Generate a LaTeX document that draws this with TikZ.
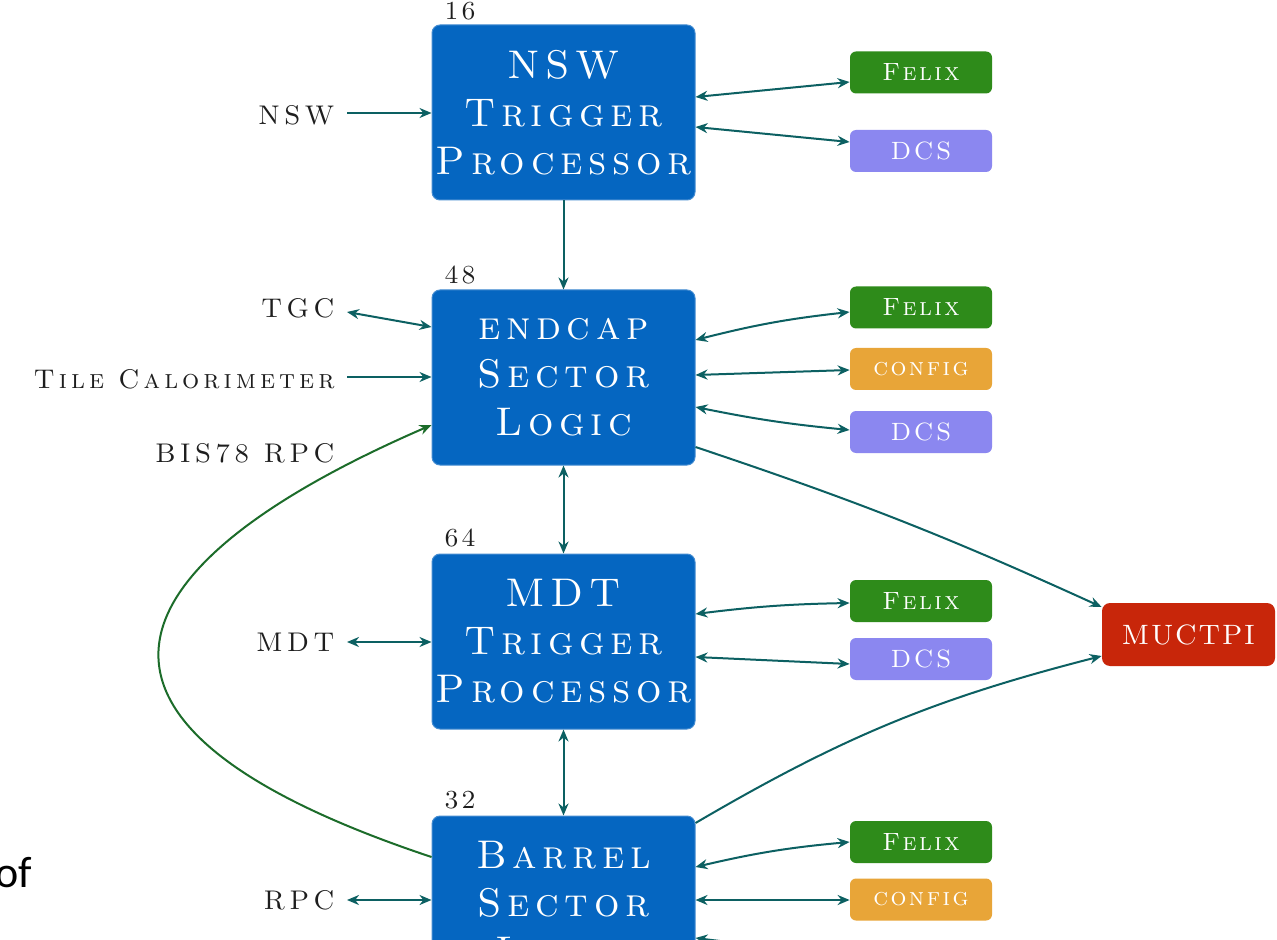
\documentclass[tikz,border=0pt]{standalone}
\usepackage{fontspec}
\usetikzlibrary{arrows.meta,calc}
\newfontfamily\cop{lmromancaps10-regular.otf}[LetterSpace=14]
\newfontfamily\copl{lmromancaps10-regular.otf}[LetterSpace=15]
\newfontfamily\cops{lmromancaps10-regular.otf}[LetterSpace=10]
\newfontfamily\copm{lmromancaps10-regular.otf}[LetterSpace=5]
\newfontfamily\calib{Carlito}
\definecolor{boxblue}{RGB}{5,102,193}
\definecolor{felixc}{RGB}{46,139,26}
\definecolor{dcsc}{RGB}{139,135,240}
\definecolor{cfgc}{RGB}{232,165,56}
\definecolor{mucc}{RGB}{200,38,10}
\definecolor{arrc}{RGB}{12,96,98}
\definecolor{grnc}{RGB}{28,108,42}
\definecolor{txtc}{RGB}{30,30,30}
\begin{document}
\begin{tikzpicture}[x=0.5pt,y=-0.5pt,
  bigbox/.style={rectangle, rounded corners=4pt, fill=boxblue, draw=boxblue!75!white, line width=0.5pt,
    minimum width=131.5pt, minimum height=87.5pt, text=white, align=center, inner sep=0pt,
    font=\cop\fontsize{20}{24}\selectfont},
  smallbox/.style={rectangle, rounded corners=3pt, minimum width=71pt, minimum height=21pt,
    text=white, inner sep=0pt, font=\cops\fontsize{12.5}{14}\selectfont},
  lab/.style={anchor=east, inner xsep=6pt, inner ysep=0pt, text=txtc, font=\copl\fontsize{13.5}{15}\selectfont},
  num/.style={anchor=west, inner sep=0pt, text=txtc, font=\cops\fontsize{13}{14}\selectfont},
  conn/.style={draw=arrc, line width=1pt, -{Stealth[length=6pt,width=5pt]}},
  bconn/.style={draw=arrc, line width=1pt, {Stealth[length=6pt,width=5pt]}-{Stealth[length=6pt,width=5pt]}},
  gconn/.style={draw=grnc, line width=1pt, -{Stealth[length=6pt,width=5pt]}}
]
\useasboundingbox (0,0) rectangle (1277,940);
\fill[white] (0,0) rectangle (1277,940);

% main boxes
\node[bigbox] (nsw) at (563.5,112.5) {NSW\\Trigger\\Processor};
\node[bigbox] (ecs) at (563.5,377.5) {endcap\\Sector\\Logic};
\node[bigbox] (mdt) at (563.5,641.5) {MDT\\Trigger\\Processor};
\node[bigbox] (bsl) at (563.5,903.5) {Barrel\\Sector\\Logic};

% multiplicities
\node[num] (n16) at (444,11) {16};
\node[num] (n48) at (444,275) {48};
\node[num] (n64) at (444,538) {64};
\node[num] (n32) at (444,800) {32};

% right boxes
\node[smallbox, fill=felixc] (f1) at (921,72.5) {Felix};
\node[smallbox, fill=dcsc] (d1) at (921,151) {DCS};
\node[smallbox, fill=felixc] (f2) at (921,307.5) {Felix};
\node[smallbox, fill=cfgc] (c2) at (921,369) {config};
\node[smallbox, fill=dcsc] (d2) at (921,432) {DCS};
\node[smallbox, fill=felixc] (f3) at (921,601) {Felix};
\node[smallbox, fill=dcsc] (d3) at (921,659) {DCS};
\node[smallbox, fill=felixc] (f4) at (921,842) {Felix};
\node[smallbox, fill=cfgc] (c4) at (921,899.5) {config};
\node[smallbox, fill=dcsc] (d4) at (921,961) {DCS};

\node[rectangle, rounded corners=4pt, fill=mucc, minimum width=86.5pt, minimum height=31.5pt,
  inner sep=0pt, text=white, font=\copm\fontsize{14}{16}\selectfont] (muc) at (1188.5,634.5) {MUCTPI};

% left labels
\node[lab] (lnsw) at (347,115) {NSW};
\node[lab] (ltgc) at (347,308) {TGC};
\node[lab] (ltile) at (347,379) {Tile Calorimeter};
\node[lab] (lbis) at (347,453) {BIS78 RPC};
\node[lab] (lmdt) at (347,642) {MDT};
\node[lab] (lrpc) at (347,900) {RPC};

% slide text fragment
\node[anchor=base west, inner sep=0pt, font=\calib\fontsize{22}{24}\selectfont, text=black] (frag) at (-5,887) {of};

% vertical connections
\draw[conn] (nsw.south) -- (ecs.north);
\draw[bconn] (ecs.south) -- (mdt.north);
\draw[bconn] (mdt.south) -- (bsl.north);

% left connections
\draw[conn] ([yshift=1pt]lnsw.east) -- ([yshift=1pt]lnsw.east -| nsw.west);
\draw[bconn] ([yshift=-2pt]ltgc.east) -- ([yshift=25.25pt]ecs.west);
\draw[conn] ([yshift=1pt]ltile.east) -- ([yshift=1pt]ltile.east -| ecs.west);
\draw[bconn] (lmdt.east) -- (lmdt.east -| mdt.west);
\draw[bconn] (lrpc.east) -- (lrpc.east -| bsl.west);
\draw[gconn] ([yshift=23.25pt]bsl.west) .. controls (20,720) and (120,560) .. ([yshift=-23.75pt]ecs.west);

% right connections
\draw[bconn] ([yshift=7.75pt]nsw.east) -- ([yshift=-4.75pt]f1.west);
\draw[bconn] ([yshift=-7.25pt]nsw.east) -- ([yshift=4.5pt]d1.west);
\draw[bconn] ([yshift=18.75pt]ecs.east) to[bend left=4] ([yshift=-2.25pt]f2.west);
\draw[bconn] ([yshift=1.25pt]ecs.east) -- ([yshift=-0.5pt]c2.west);
\draw[bconn] ([yshift=-14.75pt]ecs.east) to[bend right=3] ([yshift=1pt]d2.west);
\draw[bconn] ([yshift=13.75pt]mdt.east) to[bend left=3] ([yshift=-1pt]f3.west);
\draw[bconn] ([yshift=-7.75pt]mdt.east) -- ([yshift=-2.5pt]d3.west);
\draw[bconn] ([yshift=18.25pt]bsl.east) to[bend left=4] (f4.west);
\draw[bconn] ([yshift=1.75pt]bsl.east) -- ([yshift=-0.25pt]c4.west);
\draw[bconn] ([yshift=-17.25pt]bsl.east) -- ([yshift=2pt]d4.west);

% to MUCTPI
\draw[conn] ([yshift=-34.75pt]ecs.east) to[bend left=3] ([yshift=13.75pt]muc.west);
\draw[conn] ([yshift=40.25pt]bsl.east) to[bend left=8] ([yshift=-10.75pt]muc.west);
\end{tikzpicture}
\end{document}
